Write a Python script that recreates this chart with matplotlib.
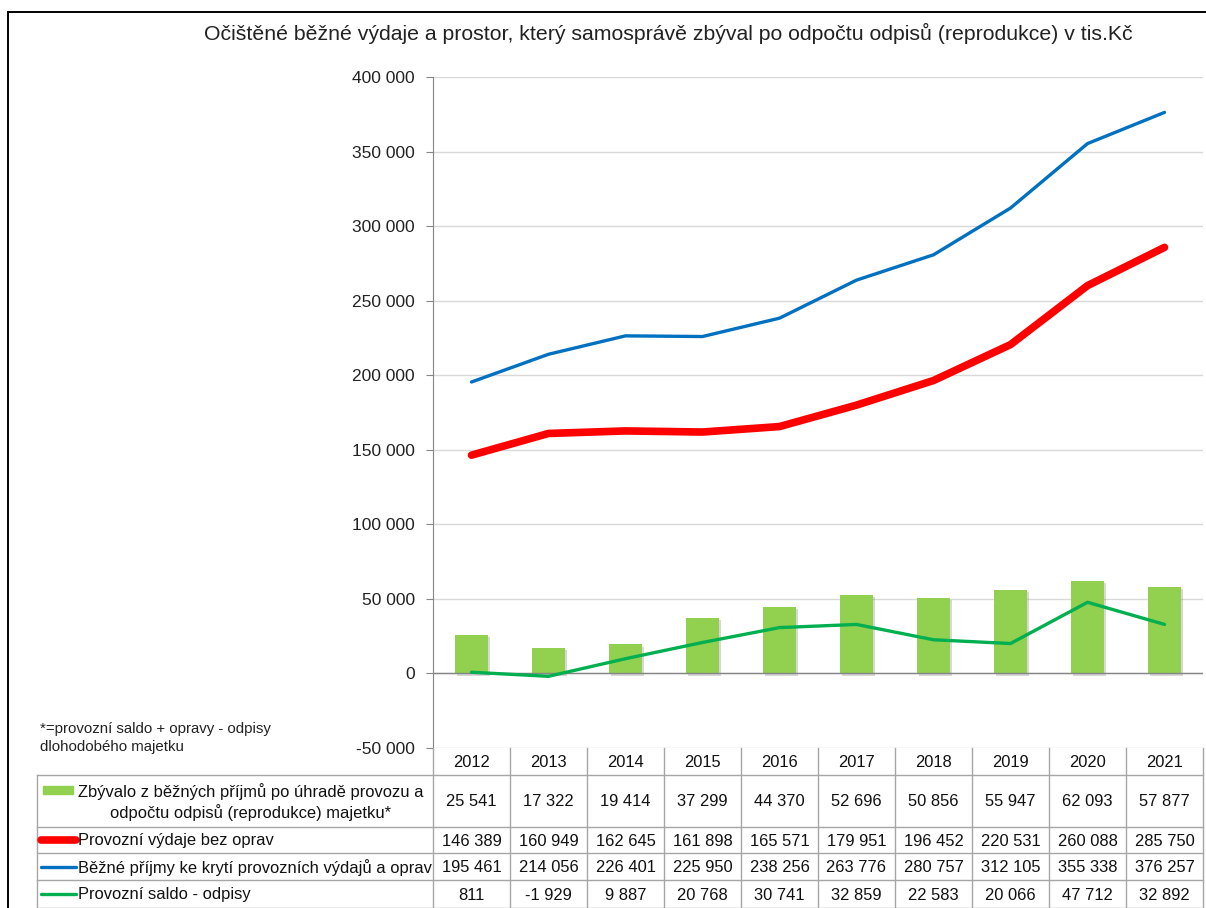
import matplotlib
matplotlib.use("Agg")
from matplotlib import pyplot as plt
import matplotlib.patheffects as pe

years = ["2012", "2013", "2014", "2015", "2016", "2017", "2018", "2019", "2020", "2021"]
zbyvalo = [25541, 17322, 19414, 37299, 44370, 52696, 50856, 55947, 62093, 57877]
provozni_vydaje = [146389, 160949, 162645, 161898, 165571, 179951, 196452, 220531, 260088, 285750]
bezne_prijmy = [195461, 214056, 226401, 225950, 238256, 263776, 280757, 312105, 355338, 376257]
saldo_odpisy = [811, -1929, 9887, 20768, 30741, 32859, 22583, 20066, 47712, 32892]

series_names = [
    "Zbývalo z běžných příjmů po úhradě provozu a\nodpočtu odpisů (reprodukce) majetku*",
    "Provozní výdaje bez oprav",
    "Běžné příjmy ke krytí provozních výdajů a oprav",
    "Provozní saldo - odpisy",
]
yticks = list(range(-50000, 400001, 50000))

title = "Očištěné běžné výdaje a prostor, který samosprávě zbýval po odpočtu odpisů (reprodukce) v tis.Kč"
note = "*=provozní saldo + opravy - odpisy\ndlohodobého majetku"

c_bar = "#92D050"
c_red = "#FF0000"
c_blue = "#0070C0"
c_green = "#00B050"
c_grid = "#D9D9D9"
c_axis = "#868686"
c_table = "#A6A6A6"

plt.rcParams['font.family'] = ['Liberation Sans Narrow', 'Liberation Sans', 'DejaVu Sans']

W, H = 1206, 908
fig = plt.figure(figsize=(W / 100, H / 100), dpi=100)

# plot area in pixel coords
px_l, px_r, px_t, px_b = 433, 1203, 77, 748
ax = fig.add_axes([px_l / W, 1 - px_b / H, (px_r - px_l) / W, (px_b - px_t) / H])
x = list(range(len(years)))

bars = ax.bar(x, zbyvalo, width=0.42, color=c_bar, zorder=2)
for b in bars:
    b.set_path_effects([pe.SimplePatchShadow(offset=(1.5, -1.5), shadow_rgbFace="#808080", alpha=0.3), pe.Normal()])
ax.plot(x, provozni_vydaje, color=c_red, lw=5.5, solid_capstyle="round", solid_joinstyle="round", zorder=4)
ax.plot(x, bezne_prijmy, color=c_blue, lw=2.4, solid_capstyle="round", solid_joinstyle="round", zorder=4)
ax.plot(x, saldo_odpisy, color=c_green, lw=2.4, solid_capstyle="round", solid_joinstyle="round", zorder=4)

ax.set_xlim(-0.5, len(years) - 0.5)
ax.set_ylim(-50000, 400000)
ax.set_yticks(yticks)
ax.set_yticklabels([f"{v:,}".replace(",", " ") for v in yticks], fontsize=12.5, color="#222222")
ax.tick_params(axis="y", length=5, color=c_axis, pad=8)
ax.set_xticks([])
ax.grid(axis="y", color=c_grid, lw=1, zorder=0)
ax.axhline(0, color=c_axis, lw=1, zorder=3)
for s in ["top", "right", "bottom"]:
    ax.spines[s].set_visible(False)
ax.spines["left"].set_color(c_axis)

# overlay for table, title, frame
ov = fig.add_axes([0, 0, 1, 1])
ov.set_xlim(0, W)
ov.set_ylim(H, 0)
ov.axis("off")
ov.patch.set_alpha(0)

ov.plot([8, W], [12, 12], color="black", lw=1.4)
ov.plot([8, 8], [12, H], color="black", lw=1.4)
ov.text(668, 33, title, fontsize=15.3, ha="center", va="center", color="#222222")
ov.text(40, 738, note, fontsize=10.8, ha="left", va="center", color="#222222", linespacing=1.45)

col_w = (px_r - px_l) / len(years)
row_edges = [748, 775, 827, 853, 880, 908]
tab_l = 37
# horizontal lines
for yv in row_edges[1:]:
    ov.plot([tab_l, px_r], [yv, yv], color=c_table, lw=1)
# vertical lines
ov.plot([tab_l, tab_l], [row_edges[1], H], color=c_table, lw=1)
for i in range(len(years) + 1):
    xv = px_l + i * col_w
    ov.plot([xv, xv], [row_edges[0], H], color=c_table, lw=1)

fs = 11.9
for i, yr in enumerate(years):
    cx = px_l + (i + 0.5) * col_w
    ov.text(cx, (row_edges[0] + row_edges[1]) / 2 + 1, yr, fontsize=fs, ha="center", va="center", color="#111111")

rows = [zbyvalo, provozni_vydaje, bezne_prijmy, saldo_odpisy]
for r, vals in enumerate(rows):
    cy = (row_edges[r + 1] + row_edges[r + 2]) / 2 + 1
    for i, v in enumerate(vals):
        cx = px_l + (i + 0.5) * col_w
        ov.text(cx, cy, f"{v:,}".replace(",", " "), fontsize=fs, ha="center", va="center", color="#111111")

# legend keys and row labels
cy0 = (row_edges[1] + row_edges[2]) / 2 + 1
ov.add_patch(plt.Rectangle((43, 786), 30, 8, color=c_bar))
ov.text(251, cy0, series_names[0], fontsize=fs, ha="center", va="center", color="#111111",
        multialignment="center", linespacing=1.35)
keys = [(c_red, 5.5), (c_blue, 2.4), (c_green, 2.4)]
for k, (col, lw) in enumerate(keys):
    cy = (row_edges[k + 2] + row_edges[k + 3]) / 2
    ov.plot([41, 76], [cy, cy], color=col, lw=lw, solid_capstyle="round")
    ov.text(78, cy + 1, series_names[k + 1], fontsize=fs, ha="left", va="center", color="#111111")

fig.savefig("out.png", dpi=100)
